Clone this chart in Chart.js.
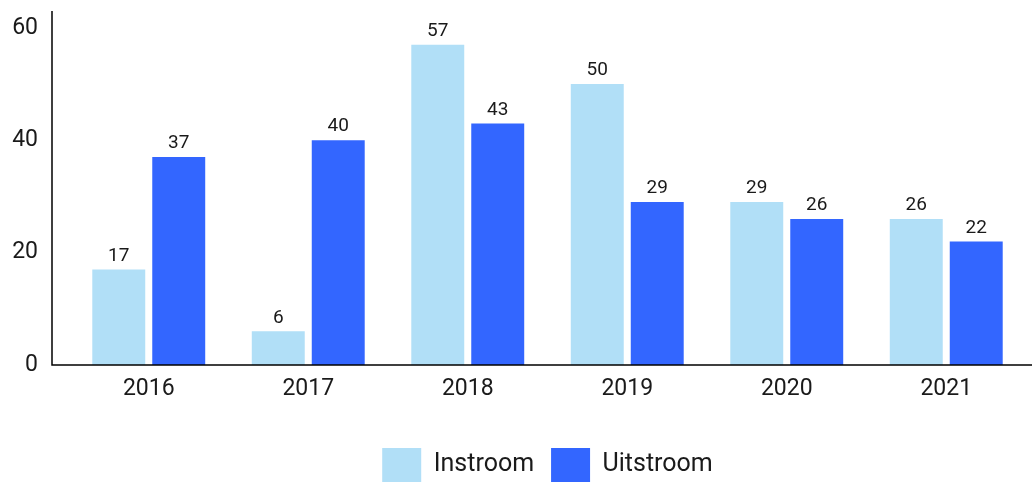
<!DOCTYPE html>
<html>
<head>
<meta charset="utf-8">
<script src="https://cdn.jsdelivr.net/npm/chart.js@4/dist/chart.umd.min.js"></script>
<style>
  html, body { margin: 0; padding: 0; background: #fff; }
  #wrap { width: 1032px; height: 482px; }
</style>
</head>
<body>
<div id="wrap"><canvas id="chart"></canvas></div>
<script>
var years = ["2016", "2017", "2018", "2019", "2020", "2021"];
var instroom = [17, 6, 57, 50, 29, 26];
var uitstroom = [37, 40, 43, 29, 26, 22];
var yTicks = [0, 20, 40, 60];

// value labels above the bars
var barLabels = {
    id: "barLabels",
    afterDatasetsDraw: function (chart) {
        var ctx = chart.ctx;
        ctx.save();
        ctx.font = "19px Roboto";
        ctx.fillStyle = "#1a1a1a";
        ctx.textAlign = "center";
        ctx.textBaseline = "bottom";
        chart.data.datasets.forEach(function (ds, i) {
            chart.getDatasetMeta(i).data.forEach(function (bar, j) {
                ctx.fillText(ds.data[j], bar.x, bar.y - 4);
            });
        });
        ctx.restore();
    }
};

// axis lines that run past the category area
var axisLines = {
    id: "axisLines",
    afterDraw: function (chart) {
        var ctx = chart.ctx;
        var a = chart.chartArea;
        var x0 = a.left - 17;
        ctx.save();
        ctx.strokeStyle = "#000";
        ctx.lineWidth = 1.5;
        ctx.beginPath();
        ctx.moveTo(x0, a.top);
        ctx.lineTo(x0, a.bottom);
        ctx.lineTo(chart.width, a.bottom);
        ctx.stroke();
        ctx.restore();
    }
};

var ctx = document.getElementById("chart").getContext("2d");
var chart = new Chart(ctx, {
    type: "bar",
    data: {
        labels: years,
        datasets: [{
            label: "Instroom",
            data: instroom,
            backgroundColor: "#b1dff7"
        }, {
            label: "Uitstroom",
            data: uitstroom,
            backgroundColor: "#3366ff"
        }]
    },
    options: {
        responsive: true,
        maintainAspectRatio: false,
        animation: false,
        categoryPercentage: 0.752,
        barPercentage: 0.883,
        layout: {
            padding: { top: 11, left: 12, right: 6, bottom: -10 }
        },
        scales: {
            x: {
                grid: { display: false },
                border: { display: false },
                ticks: {
                    color: "#1a1a1a",
                    font: { family: "Roboto", size: 23 },
                    padding: 2
                },
                afterFit: function (axis) {
                    axis.height = 66;
                    axis.paddingLeft = 0;
                    axis.paddingRight = 0;
                }
            },
            y: {
                min: 0,
                max: 63,
                grid: { display: false },
                border: { display: false },
                afterBuildTicks: function (axis) {
                    axis.ticks = yTicks.map(function (v) { return { value: v }; });
                },
                ticks: {
                    color: "#1a1a1a",
                    font: { family: "Roboto", size: 23 },
                    padding: 23
                },
                afterFit: function (axis) {
                    axis.width = 57;
                    axis.paddingTop = 0;
                    axis.paddingBottom = 0;
                }
            }
        },
        plugins: {
            legend: {
                position: "bottom",
                fullSize: false,
                labels: {
                    color: "#1a1a1a",
                    font: { family: "Roboto", size: 25 },
                    boxWidth: 39,
                    boxHeight: 34,
                    padding: 17
                }
            },
            tooltip: { enabled: false }
        }
    },
    plugins: [barLabels, axisLines]
});
</script>
</body>
</html>
